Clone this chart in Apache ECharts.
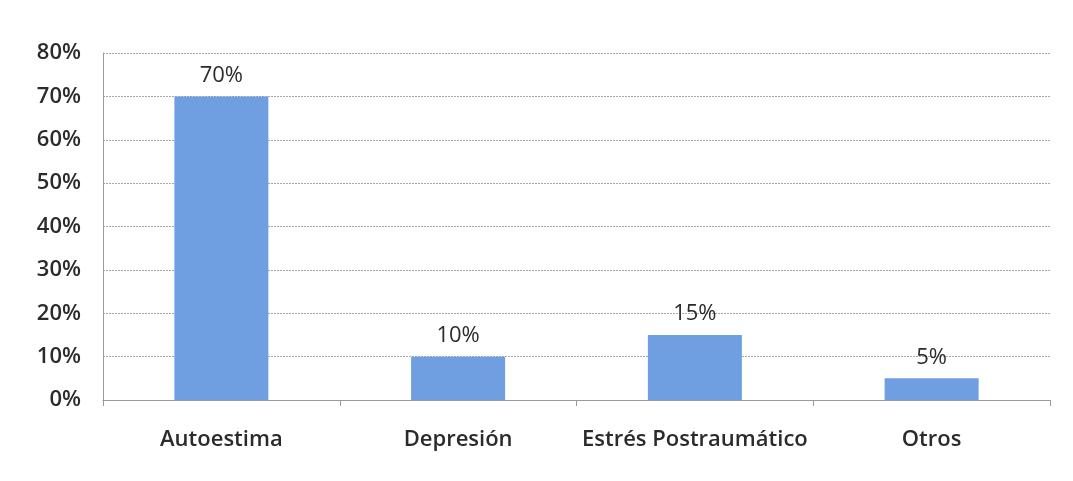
<!DOCTYPE html>
<html>
<head>
<meta charset="utf-8">
<script src="https://cdn.jsdelivr.net/npm/echarts@6/dist/echarts.min.js"></script>
<style>
  html, body { margin: 0; padding: 0; background: #fff; }
  #chart { width: 1073px; height: 481px; }
</style>
</head>
<body>
<div id="chart"></div>
<script>
// categorías y valores (%)
const categories = ["Autoestima", "Depresión", "Estrés Postraumático", "Otros"];
const values = [70, 10, 15, 5];

const chart = echarts.init(document.getElementById("chart"));

chart.setOption({
  animation: false,
  grid: { left: 103, right: 23, top: 53, bottom: 81 },
  xAxis: {
    type: "category",
    data: categories,
    axisLine: { lineStyle: { color: "#9a9a9a", width: 1 } },
    axisTick: { show: true, interval: 0, length: 6, lineStyle: { color: "#9a9a9a" } },
    axisLabel: {
      interval: 0,
      color: "#2b2b2b", fontSize: 22, fontFamily: "Open Sans", fontWeight: 600, margin: 29
    }
  },
  yAxis: {
    type: "value",
    min: 0, max: 80, interval: 10,
    axisLine: { show: true, lineStyle: { color: "#9a9a9a", width: 1 } },
    axisTick: { show: false },
    axisLabel: {
      formatter: "{value}%",
      color: "#2b2b2b", fontSize: 22, fontFamily: "Open Sans", fontWeight: 600, margin: 22
    },
    splitLine: { lineStyle: { color: "#a8a8a8", type: [2, 1], width: 1 } }
  },
  series: [{
    type: "bar",
    data: values,
    barWidth: 94,
    itemStyle: { color: "#6f9fe0" },
    label: {
      show: true, position: "top", distance: 10,
      formatter: "{c}%",
      color: "#2b2b2b", fontSize: 22, fontFamily: "Open Sans"
    }
  }]
});
</script>
</body>
</html>
